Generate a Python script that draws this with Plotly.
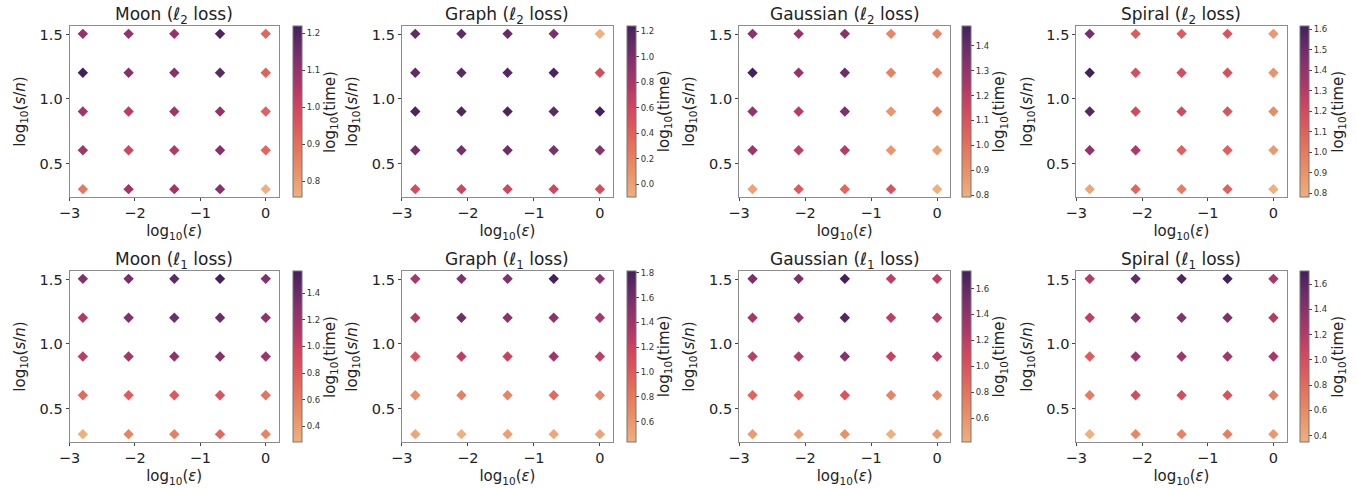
import plotly.graph_objects as go

# log10(eps) and log10(s/n) grid values
x_vals = [-2.796, -2.097, -1.398, -0.699, 0.0]
y_vals = [0.301, 0.602, 0.903, 1.204, 1.505]

titles = ["Moon (ℓ<sub>2</sub> loss)", "Graph (ℓ<sub>2</sub> loss)",
          "Gaussian (ℓ<sub>2</sub> loss)", "Spiral (ℓ<sub>2</sub> loss)",
          "Moon (ℓ<sub>1</sub> loss)", "Graph (ℓ<sub>1</sub> loss)",
          "Gaussian (ℓ<sub>1</sub> loss)", "Spiral (ℓ<sub>1</sub> loss)"]
x_ticks = [-3, -2, -1, 0]
x_ticktext = ["−3", "−2", "−1", "0"]
y_ticks = [0.5, 1.0, 1.5]
y_ticktext = ["0.5", "1.0", "1.5"]

# log10(time); rows = y_vals (0.3 -> 1.5), cols = x_vals (-2.8 -> 0)
moon_l2 = [[0.88, 1.08, 1.08, 1.12, 0.758],
           [1.08, 1.00, 1.05, 1.12, 0.92],
           [1.08, 1.04, 1.08, 1.10, 0.93],
           [1.219, 1.12, 1.12, 1.18, 0.93],
           [1.10, 1.10, 1.10, 1.20, 0.92]]
graph_l2 = [[0.55, 0.60, 0.60, 0.60, 0.55],
            [1.05, 1.02, 1.05, 1.00, 0.95],
            [1.20, 1.18, 1.20, 1.12, 1.24],
            [1.10, 1.12, 1.15, 1.20, 0.55],
            [1.10, 1.10, 1.08, 1.00, -0.10]]
gauss_l2 = [[0.84, 1.08, 1.03, 1.10, 0.793],
            [1.28, 1.20, 1.22, 0.88, 0.85],
            [1.30, 1.22, 1.35, 0.88, 0.95],
            [1.479, 1.30, 1.38, 0.95, 0.95],
            [1.32, 1.30, 1.32, 0.93, 0.93]]
spiral_l2 = [[0.82, 1.08, 0.98, 1.10, 0.781],
             [1.40, 1.32, 1.10, 1.10, 0.87],
             [1.56, 1.20, 1.20, 1.15, 0.93],
             [1.616, 1.18, 1.18, 1.17, 0.90],
             [1.48, 1.12, 1.12, 1.15, 0.88]]
moon_l1 = [[0.28, 0.55, 0.58, 0.72, 0.55],
           [0.70, 0.80, 0.82, 0.85, 0.65],
           [1.05, 1.15, 1.25, 1.28, 1.20],
           [1.10, 1.30, 1.38, 1.40, 1.25],
           [1.30, 1.35, 1.45, 1.569, 1.30]]
graph_l1 = [[0.50, 0.435, 0.55, 0.50, 0.52],
            [0.65, 0.75, 0.72, 0.90, 0.72],
            [1.05, 1.25, 1.20, 1.40, 1.25],
            [1.30, 1.60, 1.50, 1.50, 1.35],
            [1.35, 1.55, 1.55, 1.816, 1.50]]
gauss_l1 = [[0.55, 0.55, 0.62, 0.417, 0.55],
            [0.90, 0.92, 1.00, 0.70, 0.68],
            [1.20, 1.25, 1.45, 1.15, 1.20],
            [1.30, 1.40, 1.65, 1.20, 1.22],
            [1.50, 1.50, 1.735, 1.20, 1.20]]
spiral_l1 = [[0.35, 0.62, 0.65, 0.68, 0.50],
             [0.70, 1.00, 1.00, 0.95, 0.68],
             [0.90, 1.30, 1.30, 1.30, 1.25],
             [1.15, 1.40, 1.42, 1.45, 1.20],
             [1.20, 1.55, 1.65, 1.704, 1.25]]

panels = [moon_l2, graph_l2, gauss_l2, spiral_l2, moon_l1, graph_l1, gauss_l1, spiral_l1]
cbar_dtick = [0.1, 0.2, 0.1, 0.1, 0.2, 0.2, 0.2, 0.2]

flare = [[0.0, "#efb07e"], [0.15, "#eb9068"], [0.3, "#e6715c"], [0.45, "#dc515c"],
         [0.55, "#cc4260"], [0.65, "#ae3868"], [0.8, "#82306e"], [0.9, "#612a68"],
         [1.0, "#44205c"]]

W, H = 1357, 489
col_px = [(59, 270, 284), (394, 607, 621), (734, 947, 959), (1074, 1286, 1300)]
row_px = [(26, 197), (271, 442)]

FONT = "DejaVu Sans"
fig = go.Figure()
layout = dict(width=W, height=H, margin=dict(l=0, r=0, t=0, b=0),
              paper_bgcolor="white", plot_bgcolor="white",
              font=dict(family=FONT, color="#222"), showlegend=False)
annotations = []

for i, z in enumerate(panels):
    r, c = divmod(i, 4)
    x0, x1, cbx = col_px[c]
    y0, y1 = row_px[r]
    xs, ys, cs = [], [], []
    for ri, yv in enumerate(y_vals):
        for ci, xv in enumerate(x_vals):
            xs.append(xv); ys.append(yv); cs.append(z[ri][ci])
    zmin = min(cs); zmax = max(cs)
    sfx = "" if i == 0 else str(i + 1)
    fig.add_trace(go.Scatter(
        x=xs, y=ys, mode="markers", xaxis="x" + sfx, yaxis="y" + sfx,
        marker=dict(symbol="diamond", size=8, color=cs, colorscale=flare,
                    cmin=zmin, cmax=zmax, line=dict(width=0),
                    colorbar=dict(
                        x=cbx / W, xanchor="left", xpad=0, ypad=0,
                        y=1 - (y0 + y1) / 2 / H, yanchor="middle",
                        len=(y1 - y0) / H, lenmode="fraction", thickness=9,
                        outlinewidth=1, outlinecolor="#777",
                        tickmode="linear", tick0=0, dtick=cbar_dtick[i],
                        tickformat=".1f",
                        ticks="outside", ticklen=3, tickcolor="#444",
                        tickfont=dict(size=8.5, family=FONT, color="#333"))),
        hoverinfo="skip"))
    ax = dict(domain=[x0 / W, x1 / W], range=[-3.0, 0.2], tickvals=x_ticks,
              ticktext=x_ticktext,
              showgrid=False, zeroline=False, showline=True, mirror=True,
              linecolor="#8c8c8c", linewidth=1, ticks="outside", ticklen=3,
              tickcolor="#444", tickfont=dict(size=14.5, family=FONT, color="#222"),
              anchor="y" + sfx,
              title=dict(text="log<sub>10</sub>(<i>ε</i>)", standoff=5,
                         font=dict(size=15, family=FONT, color="#222")))
    ay = dict(domain=[1 - y1 / H, 1 - y0 / H], range=[0.24, 1.566],
              tickvals=y_ticks, ticktext=y_ticktext,
              showgrid=False, zeroline=False, showline=True, mirror=True,
              linecolor="#8c8c8c", linewidth=1, ticks="outside", ticklen=3,
              tickcolor="#444", tickfont=dict(size=14.5, family=FONT, color="#222"),
              anchor="x" + sfx,
              title=dict(text="log<sub>10</sub>(<i>s</i>/<i>n</i>)", standoff=10,
                         font=dict(size=15, family=FONT, color="#222")))
    layout["xaxis" + sfx] = ax
    layout["yaxis" + sfx] = ay
    annotations.append(dict(text=titles[i], x=(x0 + x1) / 2 / W, y=1 - (y0 - 11) / H,
                            xref="paper", yref="paper", xanchor="center", yanchor="middle",
                            showarrow=False, font=dict(size=17, family=FONT, color="#222")))
    annotations.append(dict(text="log<sub>10</sub>(time)", x=(cbx + 38) / W,
                            y=1 - (y0 + y1) / 2 / H, xref="paper", yref="paper",
                            xanchor="center", yanchor="middle", textangle=-90,
                            showarrow=False, font=dict(size=15, family=FONT, color="#222")))

layout["annotations"] = annotations
fig.update_layout(**layout)
fig.write_html("out.html")
